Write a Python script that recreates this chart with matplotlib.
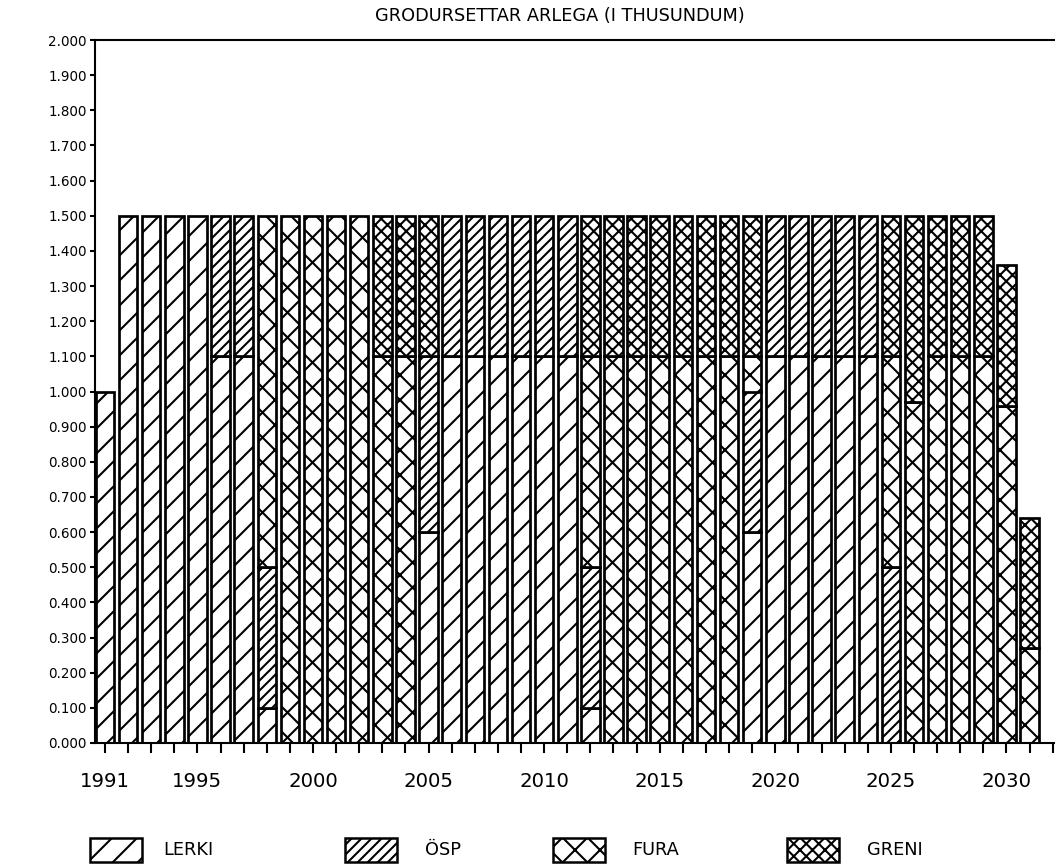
import numpy as np
import matplotlib.pyplot as plt
from matplotlib.patches import Rectangle

# ---------------- Data (thousands of seedlings per year) ----------------
years = list(range(1991, 2032))

lerki = [1.0, 1.5, 1.5, 1.5, 1.5, 1.1, 1.1, 0.1, 0, 0,
         0, 0, 0, 0, 0.6, 1.1, 1.1, 1.1, 1.1, 1.1,
         1.1, 0.1, 0, 0, 0, 0, 0, 0, 0.6, 1.1,
         1.1, 1.1, 1.1, 1.1, 0, 0, 0, 0, 0, 0, 0]
osp = [0, 0, 0, 0, 0, 0.4, 0.4, 0.4, 0, 0,
       0, 0, 0, 0, 0.5, 0.4, 0.4, 0.4, 0.4, 0.4,
       0.4, 0.4, 0, 0, 0, 0, 0, 0, 0.4, 0.4,
       0.4, 0.4, 0.4, 0.4, 0.5, 0, 0, 0, 0, 0, 0]
fura = [0, 0, 0, 0, 0, 0, 0, 1.0, 1.5, 1.5,
        1.5, 1.5, 1.1, 1.1, 0, 0, 0, 0, 0, 0,
        0, 0.6, 1.1, 1.1, 1.1, 1.1, 1.1, 1.1, 0.1, 0,
        0, 0, 0, 0, 0.6, 0.97, 1.1, 1.1, 1.1, 0.96, 0.27]
greni = [0, 0, 0, 0, 0, 0, 0, 0, 0, 0,
         0, 0, 0.4, 0.4, 0.4, 0, 0, 0, 0, 0,
         0, 0.4, 0.4, 0.4, 0.4, 0.4, 0.4, 0.4, 0.4, 0,
         0, 0, 0, 0, 0.4, 0.53, 0.4, 0.4, 0.4, 0.40, 0.37]

names = ["LERKI", "ÖSP", "FURA", "GRENI"]
hatches = ["//", "/////", "xx", "xxxx"]

label_years = [1991, 1995, 2000, 2005, 2010, 2015, 2020, 2025, 2030]
y_ticks = [i / 10 for i in range(21)]
y_labels = [f"{v:.3f}" for v in y_ticks]

title = "GRODURSETTAR ARLEGA (I THUSUNDUM)"

# ---------------- Figure ----------------
W, H, DPI = 1055, 865, 150
plt.rcParams["hatch.linewidth"] = 1.0
plt.rcParams["font.family"] = "DejaVu Sans"

fig = plt.figure(figsize=(W / DPI, H / DPI), dpi=DPI)
ax = fig.add_axes([95 / W, 1 - 743 / H, 1 - 95 / W, (743 - 40) / H])


def px(x, y):
    return x / W, 1 - y / H


# ---------------- Stacked bars ----------------
x = np.array(years)
bottom = np.zeros(len(years))
for name, vals, hatch in zip(names, [lerki, osp, fura, greni], hatches):
    v = np.array(vals, dtype=float)
    m = v > 0
    ax.bar(x[m], v[m], width=0.8, bottom=bottom[m], facecolor="white",
           edgecolor="black", hatch=hatch, linewidth=1.3)
    bottom += v

# ---------------- Axes styling ----------------
ax.set_xlim(1990.57, 2032.1)
ax.set_ylim(0, 2.0)

ax.set_yticks(y_ticks)
ax.set_yticklabels(y_labels, fontsize=6.5)
ax.set_xticks(list(range(1991, 2033)))
ax.set_xticklabels([str(t) if t in label_years else "" for t in range(1991, 2033)],
                   fontsize=9.5)

ax.tick_params(axis="x", direction="out", length=5, width=1.0, pad=9)
ax.tick_params(axis="y", direction="out", length=2.5, width=1.0, pad=1.5)

ax.spines["right"].set_visible(False)
for s in ["left", "bottom", "top"]:
    ax.spines[s].set_linewidth(1.0)

fig.text(*px(560, 16), title, ha="center", va="center", fontsize=8.5)

# ---------------- Legend ----------------
patch_x = [90, 345, 553, 787]
text_x = [163, 425, 632, 867]
for name, hatch, p0, t0 in zip(names, hatches, patch_x, text_x):
    x0, y0 = px(p0, 862)
    fig.add_artist(Rectangle((x0, y0), 52 / W, 24 / H, transform=fig.transFigure,
                             facecolor="white", edgecolor="black", hatch=hatch,
                             linewidth=1.2))
    fig.text(*px(t0, 850), name, ha="left", va="center", fontsize=8.5)

fig.savefig("out.png", dpi=DPI)
